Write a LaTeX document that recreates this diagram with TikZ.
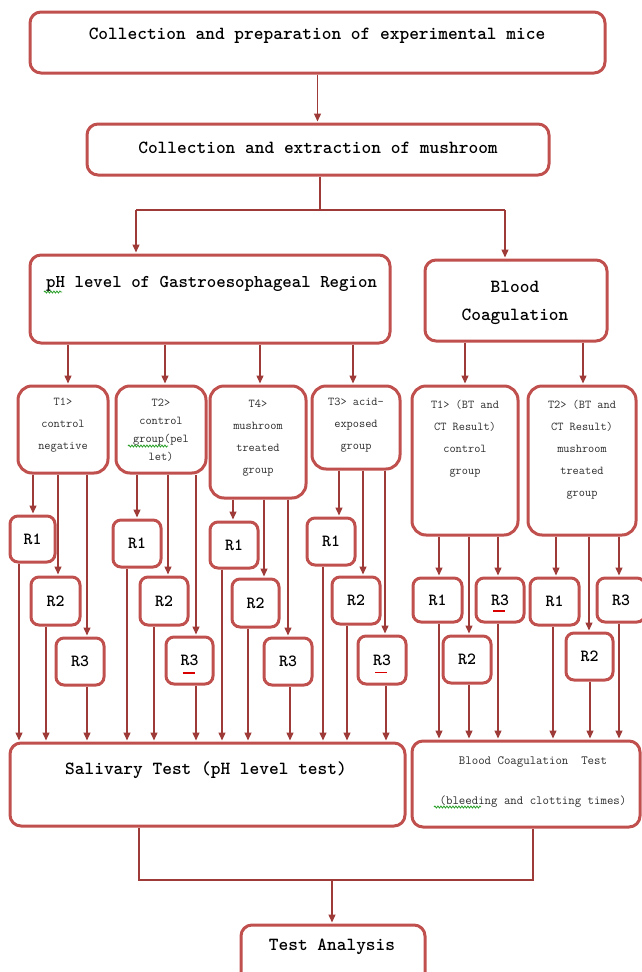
\documentclass[tikz,border=0pt]{standalone}
\usepackage{fontspec}
\usetikzlibrary{arrows.meta,decorations.pathmorphing}
\definecolor{boxred}{RGB}{192,80,77}
\definecolor{linered}{RGB}{158,58,55}
\definecolor{txt}{RGB}{45,45,45}
\definecolor{wavy}{RGB}{40,160,40}
\begin{document}
\begin{tikzpicture}[x=1pt,y=-1pt,
  box/.style={draw=boxred,line width=3pt,rounded corners=11pt,fill=white,inner sep=0pt},
  tbox/.style={box,rounded corners=14pt},
  rbox/.style={draw=boxred,line width=3pt,rounded corners=8pt,fill=white,inner sep=0pt,font=\ttfamily\fontsize{17}{17}\selectfont\bfseries},
  conn/.style={draw=linered,line width=1.4pt},
  arr/.style={conn,-{Triangle[length=8pt,width=7pt]},shorten >=1pt},
  big/.style={font=\ttfamily\fontsize{18.5}{18.5}\selectfont\bfseries,inner sep=0pt},
  small/.style={font=\ttfamily\fontsize{12}{22}\selectfont,text=txt,align=center,inner sep=0pt,anchor=north},
  spell/.style={draw=red!85!black,line width=1.2pt},
  wave/.style={draw=wavy,line width=0.8pt,decorate,decoration={snake,segment length=3pt,amplitude=1pt}}
]
\useasboundingbox (0,0) rectangle (642,972);

% main boxes
\node[box,minimum width=575pt,minimum height=61pt] (b1) at (317.5,42.5) {};
\node[box,minimum width=462pt,minimum height=51pt] (b2) at (318,149.5) {};
\node[box,minimum width=360pt,minimum height=88pt] (b3) at (210,299) {};
\node[box,minimum width=182pt,minimum height=81pt] (b4) at (516,300.5) {};
\node[tbox,minimum width=90pt,minimum height=87pt] (TA) at (63,429.5) {};
\node[tbox,minimum width=90pt,minimum height=87pt] (TB) at (161,429.5) {};
\node[tbox,minimum width=96pt,minimum height=112pt] (TC) at (258,442) {};
\node[tbox,minimum width=88pt,minimum height=83pt] (TD) at (356,427.5) {};
\node[tbox,minimum width=106pt,minimum height=149pt] (TE) at (465,460.5) {};
\node[tbox,minimum width=108pt,minimum height=149pt] (TF) at (582,460.5) {};
\node[box,minimum width=395pt,minimum height=83pt] (sal) at (207.5,784.5) {};
\node[box,minimum width=228pt,minimum height=86pt] (bct) at (526,784) {};
\node[box,minimum width=184pt,minimum height=60pt] (ta) at (333,955) {};

% texts
\node[big] (t1) at (317,35.5) {Collection and preparation of experimental mice};
\node[big] (t2) at (318,147.5) {Collection and extraction of mushroom};
\node[big,anchor=west,font=\ttfamily\fontsize{18}{18}\selectfont\bfseries] (t3) at (46,283.5) {pH level of Gastroesophageal Region};
\node[big] (t4a) at (515,287) {Blood};
\node[big] (t4b) at (515,317) {Coagulation};
\node[small] (tA) at (63,398) {T1>\\control\\negative};
\node[small,font=\ttfamily\fontsize{12}{18}\selectfont] (tB) at (161,399) {T2>\\control\\group(pel\\let)};
\node[small] (tC) at (258,400) {T4>\\mushroom\\treated\\group};
\node[small] (tD) at (356,398) {T3> acid-\\exposed\\group};
\node[small] (tE) at (465,400) {T1> (BT and\\CT Result)\\control\\group};
\node[small] (tF) at (582,400) {T2> (BT and\\CT Result)\\mushroom\\treated\\group};
\node[big] (tsal) at (206,770) {Salivary Test (pH level test)};
\node[small,font=\ttfamily\fontsize{12.5}{12.5}\selectfont] (tbct1) at (533,757) {Blood Coagulation\ \ Test};
\node[small,font=\ttfamily\fontsize{12.5}{12.5}\selectfont] (tbct2) at (533,796) {(bleeding and clotting times)};
\node[big] (tta) at (332,947) {Test Analysis};

% top connectors
\draw[arr] (b1.south) -- (b1.south |- b2.north);
\coordinate (jL) at (136,210);
\coordinate (jR) at (505,210);
\coordinate (jM) at (320,210);
\draw[conn] (jM |- b2.south) -- (jM);
\draw[conn] (jL) -- (jR);
\draw[arr] (jL) -- (jL |- b3.north);
\draw[arr] (jR) -- (jR |- b4.north);
\foreach \xx/\t in {68/TA,165/TB,260/TC,353/TD}{
  \coordinate (c) at (\xx,0);
  \draw[arr] (c |- b3.south) -- (c |- \t.north);
}
\foreach \xx/\t in {465/TE,583/TF}{
  \coordinate (c) at (\xx,0);
  \draw[arr] (c |- b4.south) -- (c |- \t.north);
}

% R boxes
\foreach \r/\t/\tg/\ax/\bx/\xa/\xb/\ya/\yb/\lab in {
  RA1/TA/sal/33/19/10/55/516/562/R1,
  RA2/TA/sal/58/46/31/80/577/625/R2,
  RA3/TA/sal/87/87/56/104/638/685/R3,
  RB1/TB/sal/137/127/113/161/520/567/R1,
  RB2/TB/sal/168/154/140/188/577/625/R2,
  RB3/TB/sal/196/196/166/213/637/684/R3,
  RC1/TC/sal/233/222/210/258/522/568/R1,
  RC2/TC/sal/264/248/232/279/579/627/R2,
  RC3/TC/sal/288/290/264/312/638/685/R3,
  RD1/TD/sal/339/323/307/355/518/565/R1,
  RD2/TD/sal/363/347/332/380/577/624/R2,
  RD3/TD/sal/385/386/358/406/636/684/R3,
  RE1/TE/bct/439/439/413/462/578/622/R1,
  RE2/TE/bct/469/469/443/491/636/683/R2,
  RE3/TE/bct/498/498/476/524/578/622/R3,
  RF1/TF/bct/556/553/530/579/578/625/R1,
  RF2/TF/bct/589/590/566/613/633/680/R2,
  RF3/TF/bct/619/619/597/645/578/622/R3}{
  \node[rbox,minimum width={\xb-\xa},minimum height={\yb-\ya}] (\r) at ({(\xa+\xb)/2},{(\ya+\yb)/2}) {\lab};
  \coordinate (A) at (\ax,0);
  \coordinate (B) at (\bx,0);
  \draw[arr] (A |- \t.south) -- (A |- \r.north);
  \draw[arr] (B |- \r.south) -- (B |- \tg.north);
}

% spell-check marks
\draw[spell] ([xshift=-7pt,yshift=-12.5pt]RB3.center) -- ++(12,0);
\draw[spell] ([xshift=-7pt,yshift=-12.5pt]RD3.center) -- ++(12,0);
\draw[spell] ([xshift=-7pt,yshift=-11pt]RE3.center) -- ++(12,0);
\draw[wave] (44,292) -- (62,292);
\draw[wave] (128,446) -- (168,446);
\draw[wave] (434,807) -- (481,807);

% bottom connectors
\coordinate (m1) at (139,880);
\coordinate (m2) at (533,880);
\coordinate (m3) at (332,880);
\draw[conn] (m1 |- sal.south) -- (m1) -- (m2) -- (m2 |- bct.south);
\draw[arr] (m3) -- (m3 |- ta.north);
\end{tikzpicture}
\end{document}
